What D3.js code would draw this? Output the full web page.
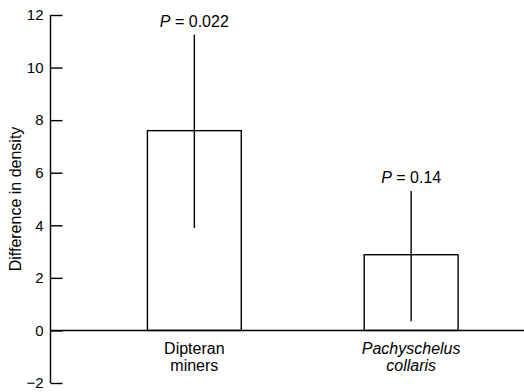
<!DOCTYPE html>
<html>
<head>
<meta charset="utf-8">
<script src="https://cdn.jsdelivr.net/npm/d3@7"></script>
<style>
  body { margin: 0; background: #fff; }
  svg text { font-family: "Liberation Sans", Arial, sans-serif; fill: #000; }
</style>
</head>
<body>
<svg id="chart" width="524" height="392"></svg>
<script>
const categories = ['Dipteran miners', 'Pachyschelus collaris'];
const labelLines = [['Dipteran', 'miners'], ['Pachyschelus', 'collaris']];
const italicLabel = [false, true];
const means = [7.6, 2.88];
const errLow = [3.9, 0.35];
const errHigh = [11.25, 5.3];
const pValues = ['0.022', '0.14'];
const yTicks = [-2, 0, 2, 4, 6, 8, 10, 12];

const svg = d3.select('#chart');
const axisX = 50.5;

const y = d3.scaleLinear().domain([-2, 12]).range([383, 15]);
const x = d3.scaleBand()
  .domain(categories)
  .range([axisX, 555])
  .paddingInner(0.567)
  .paddingOuter(0.447);

// y axis, ticks pointing inward
const yAxis = d3.axisRight(y).tickValues(yTicks).tickSize(12).tickFormat(d => d < 0 ? '\u2212' + Math.abs(d) : d);
const gy = svg.append('g').attr('transform', `translate(${axisX},0)`).call(yAxis);
gy.attr('font-size', null).attr('font-family', null);
gy.select('.domain').attr('d', `M0,${y(-2)}V${y(12)}`).attr('stroke', '#000').attr('stroke-width', 1.4);
gy.selectAll('.tick line').attr('stroke', '#000').attr('stroke-width', 1.4);
gy.selectAll('.tick text')
  .attr('x', -7).attr('text-anchor', 'end')
  .style('font-size', '15px');

// zero line
svg.append('line')
  .attr('x1', axisX).attr('x2', 524)
  .attr('y1', y(0)).attr('y2', y(0))
  .attr('stroke', '#000').attr('stroke-width', 1.4);

// bars
svg.selectAll('rect.bar')
  .data(categories)
  .enter().append('rect')
  .attr('class', 'bar')
  .attr('x', d => x(d))
  .attr('width', x.bandwidth())
  .attr('y', (d, i) => y(means[i]))
  .attr('height', (d, i) => y(0) - y(means[i]))
  .attr('fill', 'none')
  .attr('stroke', '#000')
  .attr('stroke-width', 1.4);

// error bars
svg.selectAll('line.err')
  .data(categories)
  .enter().append('line')
  .attr('class', 'err')
  .attr('x1', d => x(d) + x.bandwidth() / 2)
  .attr('x2', d => x(d) + x.bandwidth() / 2)
  .attr('y1', (d, i) => y(errLow[i]))
  .attr('y2', (d, i) => y(errHigh[i]))
  .attr('stroke', '#000').attr('stroke-width', 1.4);

// P labels
categories.forEach((c, i) => {
  const t = svg.append('text')
    .attr('x', x(c) + x.bandwidth() / 2)
    .attr('y', y(errHigh[i]) - 8)
    .attr('text-anchor', 'middle')
    .style('font-size', '16px');
  t.append('tspan').attr('font-style', 'italic').text('P');
  t.append('tspan').text(' = ' + pValues[i]);
});

// category labels
categories.forEach((c, i) => {
  const t = svg.append('text')
    .attr('text-anchor', 'middle')
    .style('font-size', '16px')
    .attr('font-style', italicLabel[i] ? 'italic' : 'normal');
  labelLines[i].forEach((line, j) => {
    t.append('tspan')
      .attr('x', x(c) + x.bandwidth() / 2)
      .attr('y', y(0) + 24 + j * 17)
      .text(line);
  });
});

// y axis title
svg.append('text')
  .attr('transform', `translate(21,${(y(-2) + y(12)) / 2}) rotate(-90)`)
  .attr('text-anchor', 'middle')
  .style('font-size', '16px')
  .text('Difference in density');
</script>
</body>
</html>
